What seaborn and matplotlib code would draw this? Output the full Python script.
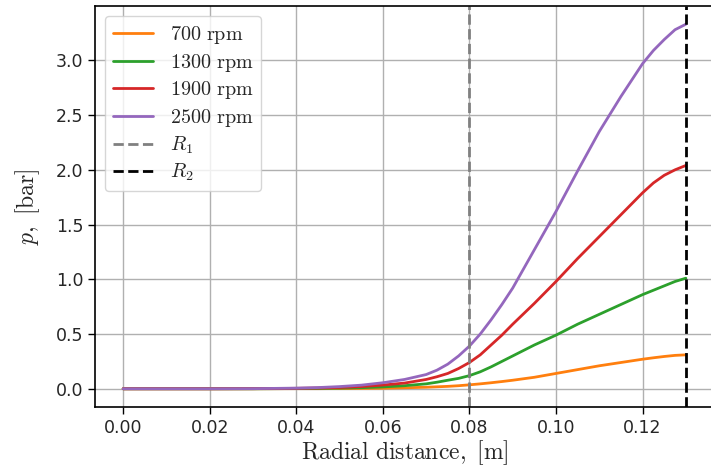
import matplotlib
matplotlib.use("Agg")
import matplotlib.pyplot as plt
import seaborn as sns
import pandas as pd

# radial positions [m]
r = [0.0, 0.01, 0.02, 0.03, 0.04, 0.045, 0.05, 0.055, 0.06, 0.065, 0.07, 0.0725,
     0.075, 0.0775, 0.08, 0.0825, 0.085, 0.0875, 0.09, 0.095, 0.10, 0.105, 0.11,
     0.115, 0.12, 0.1225, 0.125, 0.1275, 0.13]

# pressures [bar]
p_700 = [0, 0, 0, 0, 0.001, 0.001, 0.002, 0.003, 0.005, 0.009, 0.014, 0.018,
         0.022, 0.028, 0.036, 0.045, 0.055, 0.066, 0.078, 0.105, 0.14, 0.175,
         0.21, 0.24, 0.27, 0.283, 0.295, 0.305, 0.31]
p_1300 = [0, 0, 0, 0, 0.002, 0.003, 0.006, 0.010, 0.017, 0.028, 0.045, 0.06,
          0.078, 0.095, 0.12, 0.155, 0.20, 0.25, 0.30, 0.40, 0.49, 0.59,
          0.68, 0.77, 0.86, 0.90, 0.94, 0.98, 1.01]
p_1900 = [0, 0, 0, 0.001, 0.004, 0.007, 0.012, 0.020, 0.034, 0.052, 0.085, 0.11,
          0.14, 0.185, 0.24, 0.31, 0.40, 0.49, 0.59, 0.78, 0.98, 1.19,
          1.39, 1.59, 1.79, 1.88, 1.95, 2.00, 2.04]
p_2500 = [0, 0, 0, 0.001, 0.006, 0.011, 0.020, 0.033, 0.055, 0.085, 0.13, 0.17,
          0.225, 0.30, 0.39, 0.50, 0.63, 0.77, 0.92, 1.27, 1.62, 1.99,
          2.35, 2.67, 2.97, 3.09, 3.19, 3.28, 3.33]

speeds = ["700 rpm", "1300 rpm", "1900 rpm", "2500 rpm"]
series = [p_700, p_1300, p_1900, p_2500]
R1 = 0.08
R2 = 0.13

rows = []
for s, vals in zip(speeds, series):
    for x, y in zip(r, vals):
        rows.append({"r": x, "p": y, "speed": s})
df = pd.DataFrame(rows)

sns.set_style("ticks")
plt.rcParams["mathtext.fontset"] = "cm"
plt.rcParams["font.family"] = ["DejaVu Sans"]

fig = plt.figure(figsize=(7.11, 4.68), dpi=100)
ax = fig.add_axes([95/711, 61/468, 619/711, 401/468])

colors = ["#ff7f0e", "#2ca02c", "#d62728", "#9467bd"]
sns.lineplot(data=df, x="r", y="p", hue="speed", hue_order=speeds,
             palette=colors, linewidth=2, ax=ax, legend=False)

handles = []
for s, c in zip(speeds, colors):
    num = s.split()[0]
    h, = ax.plot([], [], color=c, lw=2, label=r"$%s\ \mathrm{rpm}$" % num)
    handles.append(h)
h1 = ax.axvline(R1, color="gray", ls="--", lw=2, label=r"$R_1$")
h2 = ax.axvline(R2, color="black", ls="--", lw=2, label=r"$R_2$")

ax.set_xticks([0.0, 0.02, 0.04, 0.06, 0.08, 0.10, 0.12])
ax.set_xticklabels(["0.00", "0.02", "0.04", "0.06", "0.08", "0.10", "0.12"])
ax.set_yticks([0.0, 0.5, 1.0, 1.5, 2.0, 2.5, 3.0])
ax.set_xlim(-0.0065, 0.1365)
ax.set_ylim(-0.1665, 3.4965)
ax.tick_params(labelsize=12.5, length=5, width=1, color="black")
ax.grid(True, color="#b0b0b0", lw=1)
for sp in ax.spines.values():
    sp.set_color("black")
    sp.set_linewidth(1.2)

ax.set_xlabel(r"$\mathrm{Radial\ distance,\ [m]}$", fontsize=17, labelpad=1)
ax.set_ylabel(r"$p,\ [\mathrm{bar}]$", fontsize=17, labelpad=10)

ax.legend(handles=handles + [h1, h2], loc="upper left", fontsize=14.5,
          frameon=True, handlelength=2.0, borderpad=0.4, labelspacing=0.28)

fig.savefig("out.png", dpi=100)
